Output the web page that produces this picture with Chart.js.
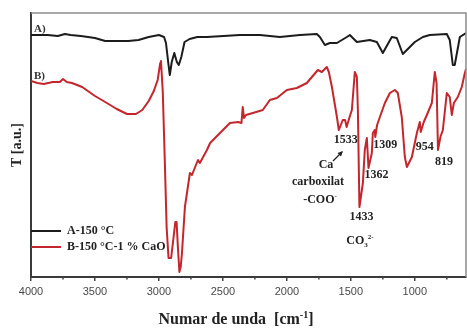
<!DOCTYPE html>
<html>
<head>
<meta charset="utf-8">
<title>FTIR</title>
<script src="https://cdn.jsdelivr.net/npm/chart.js@4/dist/chart.umd.min.js"></script>
<style>
  html, body { margin: 0; padding: 0; background: #fff; }
  canvas { display: block; }
</style>
</head>
<body>
<canvas id="ftir" width="467" height="329"></canvas>
<script>
// Spectrul A (150 °C) - numar de unda si transmitanta (u.a.)
const numarUndaA = [4000, 3870, 3790, 3735, 3690, 3610, 3500, 3420, 3240, 3160, 3080, 3000, 2960, 2945,
  2925, 2915, 2900, 2880, 2860, 2845, 2825, 2800, 2760, 2700, 2625, 2367, 2211, 2055, 1898, 1766,
  1742, 1703, 1664, 1609, 1531, 1508, 1453, 1352, 1297, 1250, 1180, 1141, 1094, 1039, 1000, 937,
  883, 750, 727, 703, 688, 648, 600];
const transA = [242, 242, 241, 243, 242, 241, 239, 236, 236, 237, 240, 242, 240, 234,
  212, 202, 215, 224, 215, 212, 220, 235, 238, 240, 240, 242, 242, 240, 242, 243,
  240, 232, 234, 234, 240, 242, 235, 237, 235, 224, 240, 239, 223, 230, 235, 240,
  242, 243, 237, 212, 212, 240, 244];

// Spectrul B (150 °C, 1 % CaO)
const numarUndaB = [4000, 3950, 3900, 3830, 3775, 3750, 3720, 3680, 3600, 3500, 3420, 3330, 3250, 3180,
  3130, 3080, 3040, 3010, 2990, 2984, 2970, 2955, 2940, 2925, 2905, 2890, 2872, 2862, 2852, 2840,
  2830, 2820, 2797, 2758, 2742, 2695, 2680, 2625, 2600, 2523, 2445, 2380, 2355, 2345, 2335, 2320,
  2266, 2188, 2133, 2078, 2000, 1922, 1844, 1758, 1727, 1688, 1672, 1648, 1609, 1594, 1563, 1545,
  1533, 1510, 1492, 1469, 1453, 1445, 1433, 1406, 1391, 1375, 1362, 1336, 1328, 1313, 1309, 1295,
  1273, 1234, 1195, 1156, 1133, 1102, 1078, 1062, 1023, 984, 961, 954, 930, 906, 867, 844,
  830, 819, 800, 781, 750, 727, 711, 695, 664, 633, 609, 600];
const transB = [196, 194, 193, 195, 195, 198, 195, 194, 190, 181, 175, 168, 163, 163,
  167, 176, 186, 197, 214, 216, 185, 120, 50, 19, 19, 35, 55, 55, 30, 5,
  10, 24, 70, 104, 102, 117, 114, 127, 134, 144, 154, 155, 154, 170, 159, 162,
  164, 167, 177, 179, 187, 189, 194, 207, 205, 210, 205, 190, 160, 147, 157, 157,
  150, 160, 167, 205, 200, 167, 70, 94, 127, 139, 109, 124, 144, 147, 140, 152,
  160, 174, 184, 187, 184, 160, 120, 110, 120, 144, 155, 145, 155, 162, 174, 205,
  194, 127, 140, 147, 184, 180, 162, 174, 180, 190, 204, 208];

// etichete axa x
const xTickValues = [4000, 3500, 3000, 2500, 2000, 1500, 1000];
const xMinorTicks = [3750, 3250, 2750, 2250, 1750, 1250, 750];

// benzile marcate pe spectrul B
const benzi = [1533, 1309, 954, 819, 1362, 1433];

const serieNume = ['A-150 °C', 'B-150 °C-1 % CaO'];

const toPoints = (xs, ys) => xs.map((x, i) => ({ x: x, y: ys[i] }));

const SERIF = "'Liberation Serif', 'Times New Roman', serif";

// pozitia etichetei fata de minimul benzii (px)
const offsetBenzi = {
  1533: [-1, 13], 1309: [10, 8], 954: [4, 15], 819: [6, 12], 1362: [8, 7], 1433: [2, 10]
};

// text cu indici sus/jos desenat pe bucati
function textCompus(ctx, parti, cx, baseline, size) {
  let total = 0;
  parti.forEach(p => {
    ctx.font = 'bold ' + (p.mic ? Math.round(size * 0.6) : size) + 'px ' + SERIF;
    p.w = ctx.measureText(p.t).width;
    total += p.w;
  });
  let xx = cx - total / 2;
  ctx.textAlign = 'left';
  ctx.textBaseline = 'alphabetic';
  parti.forEach(p => {
    ctx.font = 'bold ' + (p.mic ? Math.round(size * 0.6) : size) + 'px ' + SERIF;
    ctx.fillText(p.t, xx, baseline + (p.dy || 0));
    xx += p.w;
  });
}

const adnotari = {
  id: 'adnotari',
  afterDraw(chart) {
    const { ctx, chartArea: a, scales: { x, y } } = chart;
    ctx.save();

    // rama sus si dreapta
    ctx.strokeStyle = '#8c8c8c';
    ctx.lineWidth = 1.5;
    ctx.beginPath();
    ctx.moveTo(a.left, a.top);
    ctx.lineTo(a.right, a.top);
    ctx.lineTo(a.right, a.bottom);
    ctx.stroke();

    // gradatii mici
    ctx.strokeStyle = '#444';
    ctx.lineWidth = 1.5;
    xMinorTicks.forEach(v => {
      const px = x.getPixelForValue(v);
      ctx.beginPath();
      ctx.moveTo(px, a.bottom);
      ctx.lineTo(px, a.bottom + 2.5);
      ctx.stroke();
    });

    ctx.fillStyle = '#222';

    // titlu axa y
    ctx.save();
    ctx.translate(17, (a.top + a.bottom) / 2);
    ctx.rotate(-Math.PI / 2);
    ctx.font = 'bold 14px ' + SERIF;
    ctx.textAlign = 'center';
    ctx.textBaseline = 'middle';
    ctx.fillText('T [a.u.]', 0, 0);
    ctx.restore();

    // titlu axa x
    textCompus(ctx, [
      { t: 'Numar de unda  [cm' },
      { t: '-1', mic: true, dy: -6 },
      { t: ']' }
    ], 236, 324, 16);

    // A) si B)
    ctx.fillStyle = '#333';
    ctx.font = 'bold 11px ' + SERIF;
    ctx.textAlign = 'left';
    ctx.textBaseline = 'middle';
    ctx.fillText('A)', 34, 29);
    ctx.fillText('B)', 34, 76);

    // legenda
    const culori = chart.data.datasets.map(d => d.borderColor);
    [231, 247].forEach((ly, i) => {
      ctx.strokeStyle = culori[i];
      ctx.lineWidth = 2;
      ctx.beginPath();
      ctx.moveTo(a.left, ly);
      ctx.lineTo(61, ly);
      ctx.stroke();
      ctx.fillStyle = '#222';
      ctx.font = 'bold 12px ' + SERIF;
      ctx.textAlign = 'left';
      ctx.textBaseline = 'middle';
      ctx.fillText(serieNume[i], 67, ly);
    });

    // etichetele benzilor
    ctx.fillStyle = '#222';
    ctx.font = 'bold 12px ' + SERIF;
    ctx.textAlign = 'center';
    ctx.textBaseline = 'middle';
    benzi.forEach(b => {
      const i = numarUndaB.indexOf(b);
      const [dx, dy] = offsetBenzi[b];
      ctx.fillText(String(b), x.getPixelForValue(b) + dx, y.getPixelForValue(transB[i]) + dy);
    });

    // carboxilat de Ca
    ctx.fillText('Ca', 326, 165);
    ctx.fillText('carboxilat', 318, 182);
    textCompus(ctx, [{ t: '-COO' }, { t: '-', mic: true, dy: -5 }], 320, 203, 12);
    ctx.strokeStyle = '#222';
    ctx.lineWidth = 1.2;
    ctx.beginPath();
    ctx.moveTo(333, 161);
    ctx.lineTo(342, 152);
    ctx.stroke();
    ctx.beginPath();
    ctx.moveTo(343, 151);
    ctx.lineTo(337.5, 153);
    ctx.lineTo(341, 156.5);
    ctx.closePath();
    ctx.fill();

    // carbonat
    textCompus(ctx, [
      { t: 'CO' },
      { t: '3', mic: true, dy: 3 },
      { t: '2-', mic: true, dy: -5 }
    ], 360, 244, 12);

    ctx.restore();
  }
};

new Chart(document.getElementById('ftir'), {
  type: 'line',
  data: {
    datasets: [
      {
        label: serieNume[0],
        data: toPoints(numarUndaA, transA),
        borderColor: '#1c1c1c',
        borderWidth: 2,
        pointRadius: 0,
        tension: 0,
        borderJoinStyle: 'round'
      },
      {
        label: serieNume[1],
        data: toPoints(numarUndaB, transB),
        borderColor: '#c4262d',
        borderWidth: 2,
        pointRadius: 0,
        tension: 0,
        borderJoinStyle: 'round'
      }
    ]
  },
  options: {
    responsive: false,
    animation: false,
    devicePixelRatio: 1,
    layout: { padding: { top: 13, right: 1, left: 0, bottom: 0 } },
    plugins: {
      legend: { display: false },
      tooltip: { enabled: false }
    },
    scales: {
      x: {
        type: 'linear',
        reverse: true,
        min: 600,
        max: 4000,
        afterBuildTicks: scale => { scale.ticks = xTickValues.map(v => ({ value: v })); },
        afterFit: scale => { scale.height = 52; },
        ticks: {
          autoSkip: false,
          maxRotation: 0,
          padding: 4,
          color: '#4a4a4a',
          font: { family: "'Liberation Sans', Arial, sans-serif", size: 11 },
          callback: v => String(v)
        },
        grid: { display: true, drawOnChartArea: false, tickLength: 4, color: '#444', lineWidth: 1.5 },
        border: { display: true, color: '#3a3a3a', width: 2 }
      },
      y: {
        min: 0,
        max: 264,
        afterFit: scale => { scale.width = 31; },
        ticks: { display: false },
        grid: { display: false },
        border: { display: true, color: '#3a3a3a', width: 2 }
      }
    }
  },
  plugins: [adnotari]
});
</script>
</body>
</html>
